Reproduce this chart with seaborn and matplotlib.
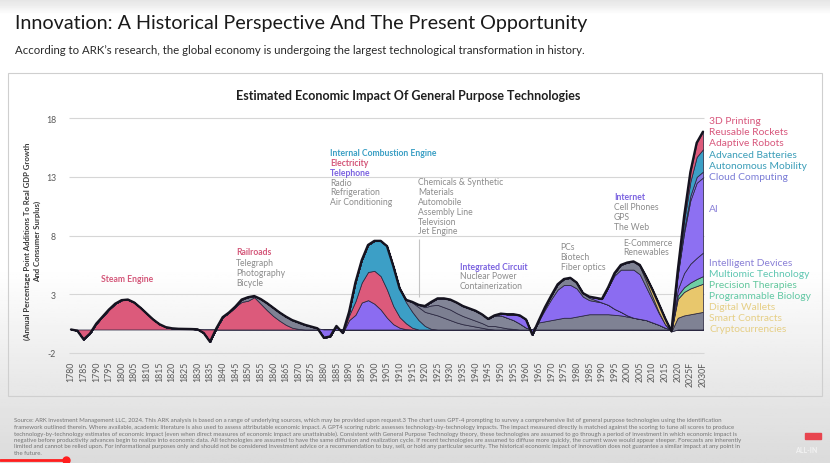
import numpy as np
import pandas as pd
import matplotlib
matplotlib.use("Agg")
import matplotlib.pyplot as plt
from matplotlib.patches import Rectangle
import seaborn as sns

# ---------------- data ----------------
tick_years = list(range(1780, 2031, 5))
tick_labels = [str(y) for y in range(1780, 2021, 5)] + ["2025F", "2030F"]
y_ticks = [-2, 3, 8, 13, 18]

# each series: first year, then values every 2.5 years
steam_start = 1780.0
steam = [0, -0.1, -0.85, -0.35, 0.5, 1.1, 1.7, 2.2, 2.5, 2.55, 2.3, 1.85, 1.35, 0.85,
         0.45, 0.2, 0.1, 0.06, 0.05, 0.04, 0.02]
rail_start = 1832.5
railroads = [-0.3, -1.05, 0.1, 1.05, 1.45, 1.95, 2.35, 2.45, 2.75, 2.2, 1.65, 1.15, 0.75,
             0.4, 0.15, 0.05, 0]
railoth_start = 1845.0
rail_others = [0, 0.2, 0.3, 0.1, 0.4, 0.6, 0.7, 0.7, 0.7, 0.65, 0.55, 0.4, 0.25, 0.1, 0]
tel_start = 1877.5
telephone = [0, -0.7, -0.6, 0.3, -0.3, 0.8, 1.25, 2.3, 2.5, 2.2, 1.7, 1.0, 0.45, 0.15, 0.03, 0]
elec_start = 1887.5
electricity = [0, 0.4, 1.15, 1.7, 2.4, 2.8, 2.85, 2.4, 1.55, 0.9, 0.5, 0.15, 0]
ice_start = 1887.5
ice = [0, 0.3, 1.6, 1.9, 2.3, 2.55, 3.0, 3.7, 3.4, 2.45, 1.8, 1.35, 0.8, 0.3, 0.05, 0]
chem1_start = 1910.0
chem1 = [0, 0.2, 0.8, 1.1, 1.2, 1.3, 1.2, 1.0, 0.8, 0.6, 0.45, 0.35, 0.25, 0.15, 0.05, 0]
chem2_start = 1912.5
chem2 = [0, 0.05, 0.2, 0.4, 0.7, 0.9, 0.9, 0.9, 0.8, 0.7, 0.6, 0.5, 0.4, 0.25, 0.3, 0.2,
         0.1, 0.05, 0]
chem3_start = 1917.5
chem3 = [0, 0.1, 0.3, 0.55, 0.75, 0.85, 0.9, 0.85, 0.85, 0.85, 0.75, 0.6, 0.9, 1.0, 0.9,
         0.75, 0.5, 0.15, 0]
pcs_low_start = 1962.5
pcs_low = [0, 0.6, 0.7, 0.8, 0.9, 1.0, 1.0, 1.1, 1.2, 1.3, 1.3, 1.3, 1.3, 1.25, 1.2, 1.1,
           1.0, 0.9, 0.8, 0.6, 0.4, 0.15, 0]
ic_start = 1947.5
ic = [0, 0.15, 0.3, 0.5, 0.7, 0.7, -0.45, 0.15, 1.0, 1.8, 2.5, 2.8, 2.8, 2.4, 1.6, 1.2,
      1.1, 1.0, 0.8, 0.5, 0.3, 0.1, 0]
pcs_top_start = 1965.0
pcs_top = [0, 0.2, 0.3, 0.45, 0.5, 0.6, 0.5, 0.3, 0.2, 0.1, 0]
internet_start = 1985.0
internet = [0.1, 0.2, 0.3, 1.5, 2.85, 3.6, 3.9, 4.1, 3.8, 2.8, 1.9, 1.0, 0.3, -0.15, 0]
ecom_start = 1992.5
ecommerce = [0, 0.2, 0.4, 0.6, 0.7, 0.7, 0.5, 0.3, 0.1, 0.0, 0, 1.0, 1.2, 1.3, 1.4, 1.5]
crypto_start = 2002.5
crypto = [0, 0.1, 0.4, 0.6, 0.7, 0.5, 0, 1.6, 2.0, 2.2, 2.3, 2.4]
new_start = 2017.5
biology = [0, 0.3, 0.4, 0.5, 0.6, 0.65]
devices = [0, 0.5, 1.2, 1.6, 1.8, 2.0]
ai = [0, 1.2, 3.4, 5.4, 6.4, 6.4]
cloud = [0, 0.1, 0.3, 0.4, 0.5, 0.5]
batteries = [0, 0.2, 0.7, 1.2, 1.7, 1.9]
rockets = [0, 0.1, 0.4, 0.8, 1.2, 1.5]

PINK, GRAY, PURPLE, BLUE = "#dc5a7b", "#7f8294", "#8b6cf1", "#3c9fc6"
YELLOW, GREEN, CLOUD = "#e8c76c", "#6fcfa4", "#8676e6"

layers = [
    ("steam", steam_start, steam, PINK),
    ("railroads", rail_start, railroads, PINK),
    ("rail_others", railoth_start, rail_others, GRAY),
    ("telephone", tel_start, telephone, PURPLE),
    ("electricity", elec_start, electricity, PINK),
    ("ice", ice_start, ice, BLUE),
    ("chem1", chem1_start, chem1, GRAY),
    ("chem2", chem2_start, chem2, "#7c7f91"),
    ("chem3", chem3_start, chem3, "#828597"),
    ("pcs_low", pcs_low_start, pcs_low, GRAY),
    ("ic", ic_start, ic, PURPLE),
    ("pcs_top", pcs_top_start, pcs_top, GRAY),
    ("internet", internet_start, internet, PURPLE),
    ("ecommerce", ecom_start, ecommerce, GRAY),
    ("crypto", crypto_start, crypto, YELLOW),
    ("biology", new_start, biology, GREEN),
    ("devices", new_start, devices, PURPLE),
    ("ai", new_start, ai, "#8d70f2"),
    ("cloud", new_start, cloud, CLOUD),
    ("batteries", new_start, batteries, BLUE),
    ("rockets", new_start, rockets, PINK),
]

grid = np.arange(1780.0, 2030.0 + 0.01, 2.5)
df = pd.DataFrame({"year": grid})
for name, start, vals, _ in layers:
    col = np.zeros(len(grid))
    i0 = int(round((start - 1780.0) / 2.5))
    col[i0:i0 + len(vals)] = vals
    df[name] = col
df["total"] = df[[l[0] for l in layers]].sum(axis=1)

# ---------------- style ----------------
sns.set_theme(style="white")
plt.rcParams["font.family"] = ["Lato", "DejaVu Sans"]

W, H = 830, 464
fig = plt.figure(figsize=(8.3, 4.64), dpi=100)
fig.patch.set_facecolor("white")

def fx(px):
    return px / W

def fy(py):
    return 1 - py / H

# background gradient (screen lighting)
bg = fig.add_axes([0, 0, 1, 1], zorder=-10)
rows = np.linspace(0, H, 200)
shade = np.interp(rows, [0, 8, 14, 270, 400, 464], [0.90, 0.95, 1.0, 1.0, 0.90, 0.86])
bg.imshow(np.tile(shade[:, None], (1, 2)), cmap="gray", vmin=0, vmax=1,
          aspect="auto", extent=[0, 1, 0, 1], origin="upper")
bg.set_axis_off()
bg.add_patch(Rectangle((fx(8), fy(397)), fx(822) - fx(8), fy(74) - fy(397),
                       transform=bg.transAxes, fill=False, edgecolor="#cfcfcf", lw=0.8))
bg.plot([0, fx(66)], [fy(460.5)] * 2, color="#ff1e1e", lw=2, transform=bg.transAxes)
bg.plot([fx(66)], [fy(460.5)], marker="o", ms=5, color="#ff1e1e", transform=bg.transAxes)
bg.set_xlim(0, 1)
bg.set_ylim(0, 1)

# main plot axes
x0, x1 = 1779.0, 2031.0
ylo, yhi = -2.3, 18.3
def px_of(year):
    return 71 + (year - 1780) * 2.528
def py_of(v):
    return 330.5 - v * 11.74

left = px_of(x0) / W
right = px_of(x1) / W
bottom = fy(py_of(ylo))
top = fy(py_of(yhi))
ax = fig.add_axes([left, bottom, right - left, top - bottom])
ax.patch.set_alpha(0)
ax.set_xlim(x0, x1)
ax.set_ylim(ylo, yhi)

ax.hlines(y_ticks, 1779.3, 2030.2, color="#d6d6d6", lw=0.8, zorder=0)
ax.vlines(1917.7, 2.8, 7.7, color="#c4c4c4", lw=0.8, zorder=0)

ax.stackplot(df["year"], *[df[l[0]] for l in layers], colors=[l[3] for l in layers],
             edgecolor="#2a2740", linewidth=0.55, zorder=2)
sns.lineplot(x=df["year"], y=df["total"], ax=ax, color="#15131f", linewidth=1.7,
             zorder=3)

for s in ax.spines.values():
    s.set_visible(False)
ax.set_xticks(tick_years)
ax.set_xticklabels(tick_labels, rotation=90, fontsize=6.3, color="#5a5a5a")
ax.set_yticks(y_ticks)
ax.set_yticklabels([str(v) for v in y_ticks], fontsize=6.3, color="#5a5a5a")
ax.tick_params(axis="both", length=0, pad=3)
ax.tick_params(axis="y", pad=9)
ax.set_xlabel("")
ax.set_ylabel("")

# ---------------- texts ----------------
fig.text(fx(15), fy(23), "Innovation: A Historical Perspective And The Present Opportunity",
         fontsize=14.2, color="#1a1a1a", va="center", ha="left")
fig.text(fx(15), fy(50), "According to ARK\u2019s research, the global economy is undergoing the largest "
         "technological transformation in history.", fontsize=8.2, color="#2a2a2a",
         va="center", ha="left")
fig.text(fx(408), fy(96), "Estimated Economic Impact Of General Purpose Technologies",
         fontsize=9.0, fontweight="bold", color="#1f1f1f", va="center", ha="center")
fig.text(fx(27), fy(241), "(Annual Percentage Point Additions To Real GDP Growth",
         fontsize=5.6, fontweight="bold", color="#3a3a3a", rotation=90,
         va="center", ha="center")
fig.text(fx(37), fy(241), "And Consumer Surplus)", fontsize=5.6, fontweight="bold",
         color="#3a3a3a", rotation=90, va="center", ha="center")

PINK_T, PURP_T, BLUE_T, GRAY_T = "#d4587a", "#7b63e0", "#3a9fc4", "#8c8c8c"

def label(px, py, txt, color, bold=False, size=6.2):
    fig.text(fx(px), fy(py), txt, fontsize=size, color=color, va="center", ha="left",
             fontweight="bold" if bold else "normal")

label(101, 280, "Steam Engine", PINK_T, True)
label(236, 253, "Railroads", PINK_T, True)
for i, t in enumerate(["Telegraph", "Photography", "Bicycle"]):
    label(236, 263 + 10 * i, t, GRAY_T)
label(330, 153.3, "Internal Combustion Engine", BLUE_T, True)
label(330, 163.3, "Electricity", PINK_T, True)
label(330, 173.3, "Telephone", PURP_T, True)
for i, t in enumerate(["Radio", "Refrigeration", "Air Conditioning"]):
    label(330, 183.2 + 9.8 * i, t, GRAY_T)
for i, t in enumerate(["Chemicals & Synthetic", "Materials", "Automobile", "Assembly Line",
                       "Television", "Jet Engine"]):
    label(418, 182.7 + 9.85 * i, t, GRAY_T)
label(460, 267.3, "Integrated Circuit", PURP_T, True)
label(460, 277, "Nuclear Power", GRAY_T)
label(460, 286.7, "Containerization", GRAY_T)
for i, t in enumerate(["PCs", "Biotech", "Fiber optics"]):
    label(560.5, 247.3 + 10 * i, t, GRAY_T)
label(614, 197.7, "Internet", PURP_T, True)
for i, t in enumerate(["Cell Phones", "GPS", "The Web"]):
    label(614, 207.5 + 9.8 * i, t, GRAY_T)
label(623, 243.3, "E-Commerce", GRAY_T)
label(623, 253, "Renewables", GRAY_T)

right_labels = [
    (121.7, "3D Printing", "#d8577c"),
    (132.3, "Reusable Rockets", "#d8577c"),
    (143.3, "Adaptive Robots", "#d8577c"),
    (155.7, "Advanced Batteries", "#3a9db8"),
    (166.7, "Autonomous Mobility", "#3a9db8"),
    (177.7, "Cloud Computing", "#7a7cd6"),
    (209.0, "AI", "#8a80d8"),
    (263.3, "Intelligent Devices", "#8a80d6"),
    (274.3, "Multiomic Technology", "#5fc7b2"),
    (285.3, "Precision Therapies", "#62c79d"),
    (296.7, "Programmable Biology", "#62c8a4"),
    (307.7, "Digital Wallets", "#e6cf86"),
    (318.7, "Smart Contracts", "#e6cf86"),
    (330.0, "Cryptocurrencies", "#e6cf86"),
]
for py, t, c in right_labels:
    label(709, py, t, c, size=7.4)

footer = [
    "Source: ARK Investment Management LLC, 2024. This ARK analysis is based on a range of underlying sources, which may be provided upon request.3 The chart uses GPT-4 prompting to survey a comprehensive list of general purpose technologies using the identification",
    "framework outlined therein. Where available, academic literature is also used to assess attributable economic impact. A GPT4 scoring rubric assesses technology-by-technology impacts. The impact measured directly is matched against the scoring to tune all scores to produce",
    "technology-by-technology estimates of economic impact (even when direct measures of economic impact are unattainable). Consistent with General Purpose Technology theory, these technologies are assumed to go through a period of investment in which economic impact is",
    "negative before productivity advances begin to realize into economic data. All technologies are assumed to have the same diffusion and realization cycle. If recent technologies are assumed to diffuse more quickly, the current wave would appear steeper. Forecasts are inherently",
    "limited and cannot be relied upon. For informational purposes only and should not be considered investment advice or a recommendation to buy, sell, or hold any particular security. The historical economic impact of innovation does not guarantee a similar impact at any point in",
    "the future.",
]
for i, t in enumerate(footer):
    fig.text(fx(14), fy(421 + 6.5 * i), t, fontsize=4.3, color="#747474", va="center",
             ha="left")

fig.text(fx(806), fy(451), "ALL-IN", fontsize=5, color="#f2f2f2", va="center",
         ha="center", fontweight="bold")
bg.add_patch(Rectangle((fx(805), fy(440)), fx(16), fy(434) - fy(440),
                       transform=bg.transAxes, color="#e8454f"))

fig.savefig("out.png", dpi=100)
